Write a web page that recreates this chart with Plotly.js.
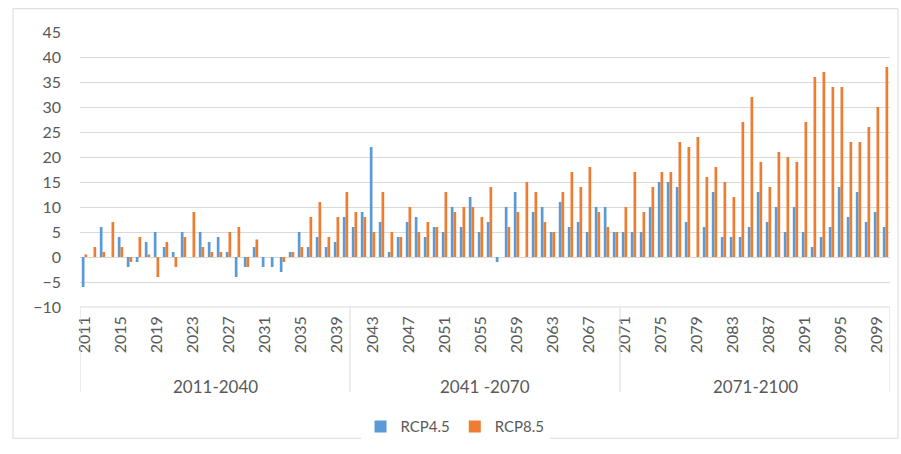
<!DOCTYPE html>
<html>
<head>
<meta charset="utf-8">
<script src="https://cdn.plot.ly/plotly-3.0.1.min.js"></script>
<style>html,body{margin:0;padding:0;background:#fff;}#chart{width:901px;height:454px;}</style>
</head>
<body>
<div id="chart"></div>
<script>
const years = [2011,2012,2013,2014,2015,2016,2017,2018,2019,2020,
  2021,2022,2023,2024,2025,2026,2027,2028,2029,2030,
  2031,2032,2033,2034,2035,2036,2037,2038,2039,2040,
  2041,2042,2043,2044,2045,2046,2047,2048,2049,2050,
  2051,2052,2053,2054,2055,2056,2057,2058,2059,2060,
  2061,2062,2063,2064,2065,2066,2067,2068,2069,2070,
  2071,2072,2073,2074,2075,2076,2077,2078,2079,2080,
  2081,2082,2083,2084,2085,2086,2087,2088,2089,2090,
  2091,2092,2093,2094,2095,2096,2097,2098,2099,2100];

const rcp45 = [-6,0,6,0,4,-2,-1,3,5,2,
  1,5,0,5,3,4,1,-4,-2,2,
  -2,-2,-3,1,5,2,4,2,3,8,
  6,9,22,7,1,4,7,8,4,6,
  5,10,6,12,5,7,-1,10,13,0,
  9,10,5,11,6,7,5,10,10,5,
  5,5,5,10,15,15,14,7,0,6,
  13,4,4,4,6,13,7,10,5,10,
  5,2,4,6,14,8,13,7,9,6];

const rcp85 = [0.5,2,1,7,2,-1,4,0.5,-4,3,
  -2,4,9,2,1,1,5,6,-2,3.5,
  0,0,-1,1,2,8,11,4,8,13,
  9,8,5,13,5,4,10,5,7,6,
  13,9,10,10,8,14,0,6,9,15,
  13,7,5,13,17,14,18,9,6,5,
  10,17,9,14,17,17,23,22,24,16,
  18,15,12,27,32,19,14,21,20,19,
  27,36,37,34,34,23,23,26,30,38];

const tickYears = [2011,2015,2019,2023,2027,2031,2035,2039,2043,2047,2051,2055,2059,2063,2067,2071,2075,2079,2083,2087,2091,2095,2099];
const groupLabels = ["2011-2040","2041 -2070","2071-2100"];
const groupCenters = [2025.5,2055.5,2085.5];
const groupBounds = [2010.5,2040.5,2070.5,2100.5];
const seriesNames = ["RCP4.5","RCP8.5"];

const txt = '#595959';
const grid = '#D9D9D9';
const font = 'Lato, "Open Sans", sans-serif';

const traces = [
  {type:'bar', name:seriesNames[0], x:years, y:rcp45, marker:{color:'#5B9BD5'}},
  {type:'bar', name:seriesNames[1], x:years, y:rcp85, marker:{color:'#ED7D31'}}
];

const shapes = groupBounds.map(b => ({
  type:'line', xref:'x', yref:'paper', x0:b, x1:b, y0:0, y1:-0.31,
  line:{color:grid, width:1}
}));
shapes.push({type:'line', xref:'paper', yref:'paper', x0:0, x1:1, y0:0, y1:0, line:{color:grid, width:1}});
shapes.push({type:'rect', xref:'paper', yref:'paper', x0:-0.0827, x1:1.0099, y0:-0.477, y1:1.0848, line:{color:grid, width:1}, fillcolor:'rgba(0,0,0,0)'});

const annotations = groupLabels.map((t,i) => ({
  text:t, x:groupCenters[i], xref:'x', y:-0.29, yref:'paper',
  showarrow:false, xanchor:'center', yanchor:'middle',
  font:{family:font, size:17, color:txt}
}));

const layout = {
  width:901, height:454,
  margin:{l:80, r:11, t:32, b:139},
  paper_bgcolor:'#fff', plot_bgcolor:'#fff',
  barmode:'group', bargap:0.4, bargroupgap:0,
  font:{family:font, color:txt},
  showlegend:true,
  legend:{orientation:'h', x:0.463, xanchor:'center', y:-0.435, yanchor:'middle',
    font:{family:font, size:15, color:txt}},
  xaxis:{type:'linear', range:[2010.5,2100.5], tickmode:'array', tickvals:tickYears,
    ticktext:tickYears.map(String), tickangle:-90, showgrid:false, zeroline:false, automargin:false,
    showline:false, ticks:'', ticklabelstandoff:5, tickfont:{family:font, size:16, color:txt}, fixedrange:true},
  yaxis:{range:[-10,45], dtick:5, tick0:0, showgrid:true, gridcolor:grid, gridwidth:1, automargin:false,
    zeroline:false, showline:false, ticks:'', ticklabelstandoff:18,
    tickfont:{family:font, size:16, color:txt}, fixedrange:true},
  shapes:shapes,
  annotations:annotations
};

Plotly.newPlot('chart', traces, layout, {displayModeBar:false, staticPlot:true});
</script>
</body>
</html>
